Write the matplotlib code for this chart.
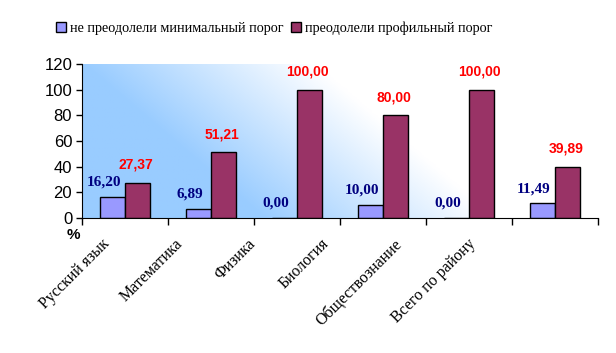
import matplotlib
matplotlib.use('Agg')
import matplotlib.pyplot as plt
import numpy as np

categories = ['Русский язык', 'Математика', 'Физика', 'Биология',
              'Обществознание', 'Всего по району']
not_passed = [16.20, 6.89, 0.00, 10.00, 0.00, 11.49]
passed_profile = [27.37, 51.21, 100.00, 80.00, 100.00, 39.89]
series_names = ['не преодолели минимальный порог', 'преодолели профильный порог']
y_ticks = [0, 20, 40, 60, 80, 100, 120]


def fmt(v):
    return ('%.2f' % v).replace('.', ',')


fig = plt.figure(figsize=(6.16, 3.53), dpi=100)
ax = fig.add_axes([0.133, 0.382, 0.838, 0.437])

# background gradient: blue at left, white towards upper right
gx, gy = np.meshgrid(np.linspace(0, 1, 300), np.linspace(0, 1, 120))
t = np.clip((gx + 0.35 * gy - 0.35) / 0.45, 0, 1)
blue = np.array([153, 204, 255]) / 255.0
img = blue[None, None, :] * (1 - t[..., None]) + 1.0 * t[..., None]
ax.imshow(img, extent=[0, 1, 0, 1], origin='lower', aspect='auto',
          transform=ax.transAxes, zorder=0)

x = np.arange(len(categories))
w = 0.29
b1 = ax.bar(x - w / 2, not_passed, w, color='#9999FF', edgecolor='black',
            linewidth=1, label=series_names[0], zorder=2)
b2 = ax.bar(x + w / 2, passed_profile, w, color='#993366', edgecolor='black',
            linewidth=1, label=series_names[1], zorder=2)

for xi, v in zip(x, not_passed):
    ax.annotate(fmt(v), (xi - w / 2 - 0.1, v), xytext=(0, 6), textcoords='offset points',
                ha='center', va='bottom', color='#000080', fontsize=11,
                fontweight='bold', family='Liberation Serif', zorder=3)
for xi, v in zip(x, passed_profile):
    ax.annotate(fmt(v), (xi + w / 2 - 0.02, v), xytext=(0, 8), textcoords='offset points',
                ha='center', va='bottom', color='#FF0000', fontsize=10,
                fontweight='bold', family='Liberation Sans', zorder=3)

ax.set_xlim(-0.5, len(categories) - 0.5)
ax.set_ylim(0, 120)
ax.set_yticks(y_ticks)
ax.set_yticklabels([str(v) for v in y_ticks], family='Liberation Sans', fontsize=12)
ax.set_xticks(np.arange(len(categories) + 1) - 0.5)
ax.set_xticklabels([])
ax.tick_params(axis='x', length=5, direction='out', width=1)
ax.tick_params(axis='y', length=4, direction='out', width=1, pad=3)
# category labels drift left progressively, as in the original
for i, (xi, c) in enumerate(zip(x, categories)):
    ax.text(xi - 0.27 - 0.15 * i, -14, c, rotation=45, ha='right', va='top',
            rotation_mode='anchor', family='Liberation Serif', fontsize=11.5)
ax.text(-0.6, -8, '%', ha='center', va='top', fontweight='bold',
        family='Liberation Sans', fontsize=11)

for s in ['top', 'right']:
    ax.spines[s].set_visible(False)

fig.legend(handles=[b1, b2], labels=series_names, loc='center',
           bbox_to_anchor=(0.445, 0.92), ncol=2, frameon=False,
           prop={'family': 'Liberation Serif', 'size': 10.2},
           handlelength=0.7, handleheight=0.7, handletextpad=0.3, columnspacing=0.5)

fig.savefig('out.png', dpi=100)
